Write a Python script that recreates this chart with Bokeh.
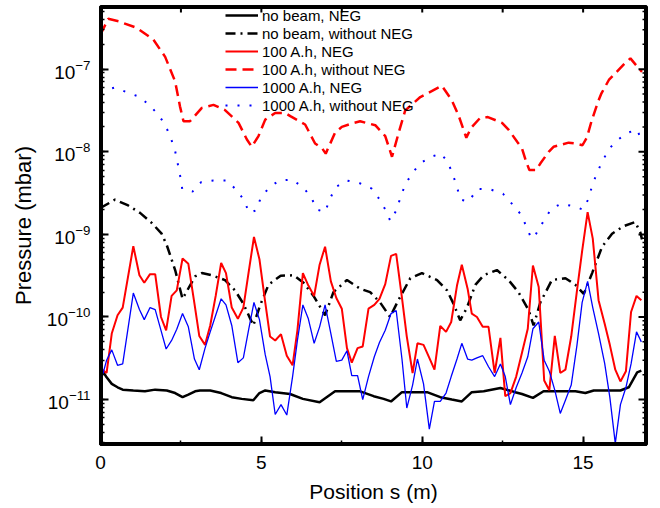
from bokeh.plotting import figure
from bokeh.models import Range1d, LogTicker, SingleIntervalTicker, Legend, LegendItem
from bokeh.embed import file_html
from bokeh.resources import INLINE

# ---------------- data ----------------
x_neg = [0.0, 0.19, 0.35, 0.53, 0.69, 1.02, 1.21, 1.36, 1.54, 1.70, 1.88, 2.04, 2.21, 2.37, 2.55, 2.73,
         2.92, 3.07, 3.25, 3.41, 3.58, 3.75, 3.90, 4.08, 4.27, 4.44, 4.60, 4.77, 4.94, 5.12, 5.27, 5.43,
         5.61, 5.79, 5.97, 6.12, 6.29, 6.46, 6.64, 6.81, 6.98, 7.16, 7.33, 7.50, 7.66, 7.81, 7.99, 8.15,
         8.33, 8.51, 8.67, 8.85, 9.03, 9.19, 9.37, 9.52, 9.70, 9.85, 10.04, 10.22, 10.38, 10.56, 10.74,
         10.90, 11.08, 11.23, 11.41, 11.54, 11.70, 11.88, 12.06, 12.25, 12.43, 12.58, 12.74, 12.92, 13.10,
         13.28, 13.44, 13.62, 13.79, 13.95, 14.12, 14.29, 14.45, 14.63, 14.81, 14.97, 15.14, 15.30, 15.48,
         15.67, 15.83, 16.00, 16.16, 16.33, 16.49, 16.66, 16.81]

p_100_neg = [2.4e-11, 2.1e-11, 6.3e-11, 1.05e-10, 1.3e-10, 7.2e-10, 3.2e-10, 2.6e-10, 3.3e-10, 3.3e-10,
             1.0e-10, 6.9e-11, 1.8e-10, 2.1e-10, 5.1e-10, 4.4e-10, 1.45e-10, 5.9e-11, 4.6e-11, 7.9e-11,
             1.8e-10, 4.5e-10, 3.4e-10, 1.3e-10, 9.5e-11, 1.3e-10, 3.4e-10, 9.3e-10, 5.0e-10, 1.5e-10,
             5.8e-11, 5.2e-11, 6.2e-11, 3.4e-11, 2.6e-11, 6.9e-11, 3.4e-10, 2.4e-10, 1.8e-10, 4.3e-10,
             7.1e-10, 2.7e-10, 1.7e-10, 1.26e-10, 4.2e-11, 2.8e-11, 4.2e-11, 4.4e-11, 1.26e-10, 1.4e-10,
             1.66e-10, 2.5e-10, 5.5e-10, 5.8e-10, 1.7e-10, 5.8e-11, 2.1e-11, 4.8e-11, 4.6e-11, 3.2e-11,
             2.3e-11, 7.8e-11, 6.6e-11, 8.7e-11, 2.4e-10, 4.3e-10, 2.2e-10, 1.1e-10, 1.0e-10, 7.6e-11,
             7.6e-11, 2.1e-11, 5.6e-11, 1.1e-11, 1.2e-11, 1.9e-11, 3.7e-11, 7.2e-11, 4.2e-10, 2.3e-10,
             1.7e-11, 1.3e-11, 5.9e-11, 2.1e-11, 2.3e-11, 5.8e-11, 2.1e-10, 6.3e-10, 1.86e-9, 8.9e-10,
             1.6e-10, 8.3e-11, 4.6e-11, 2.3e-11, 1.66e-11, 2.2e-11, 1.15e-10, 1.8e-10, 1.6e-10]

p_1000_neg = [1.6e-11, 3.0e-11, 4.0e-11, 2.6e-11, 2.7e-11, 1.95e-10, 1.23e-10, 9.3e-11, 1.3e-10, 1.23e-10,
              6.9e-11, 4.1e-11, 5.2e-11, 7.1e-11, 1.1e-10, 7.6e-11, 3.1e-11, 2.3e-11, 4.2e-11, 6.6e-11,
              1.05e-10, 1.66e-10, 1.4e-10, 7.9e-11, 2.8e-11, 3.2e-11, 6.9e-11, 1.5e-10, 9.3e-11, 3.5e-11,
              1.9e-11, 6.6e-12, 8.7e-12, 6.5e-12, 1.9e-11, 5.2e-11, 1.4e-10, 9.5e-11, 4.8e-11, 7.6e-11,
              1.4e-10, 6.3e-11, 2.9e-11, 3.0e-11, 3.9e-11, 1.95e-11, 1.95e-11, 1.0e-11, 1.9e-11, 3.3e-11,
              4.9e-11, 6.9e-11, 1.1e-10, 1.2e-10, 3.1e-11, 7.9e-12, 1.5e-11, 3.1e-11, 1.55e-11, 4.4e-12,
              9.5e-12, 9.5e-12, 1.2e-11, 1.9e-11, 3.1e-11, 4.8e-11, 3.1e-11, 3.0e-11, 3.2e-11, 3.4e-11,
              2.5e-11, 1.9e-11, 2.7e-11, 1.9e-11, 8.7e-12, 1.4e-11, 2.1e-11, 3.3e-11, 7.2e-11, 8.7e-11,
              3.0e-11, 2.2e-11, 1.3e-11, 6.8e-12, 9.8e-12, 1.5e-11, 4.6e-11, 1.5e-10, 2.7e-10, 1.3e-10,
              6.3e-11, 2.75e-11, 1.07e-11, 2.95e-12, 8.7e-12, 1.4e-11, 2.7e-11, 6.6e-11, 5.0e-11]

x_nobeam = [0.0, 0.19, 0.35, 0.53, 0.69, 1.02, 1.38, 1.70, 2.06, 2.32, 2.55, 2.73, 2.94, 3.09, 3.41, 3.75,
            4.08, 4.39, 4.75, 4.94, 5.12, 5.43, 5.89, 6.29, 6.81, 7.29, 8.07, 8.49, 8.80, 9.03, 9.37, 10.15,
            10.56, 10.92, 11.23, 11.54, 11.91, 12.43, 12.89, 13.10, 13.44, 13.77, 14.76, 15.07, 15.33, 16.16,
            16.42, 16.68, 16.81]
p_nobeam_neg = [2.45e-11, 1.86e-11, 1.55e-11, 1.41e-11, 1.32e-11, 1.29e-11, 1.26e-11, 1.32e-11, 1.29e-11,
                1.20e-11, 1.07e-11, 1.15e-11, 1.26e-11, 1.29e-11, 1.29e-11, 1.20e-11, 1.07e-11, 1.02e-11,
                9.8e-12, 1.20e-11, 1.29e-11, 1.23e-11, 1.17e-11, 1.02e-11, 9.3e-12, 1.26e-11, 1.26e-11,
                1.10e-11, 1.02e-11, 9.5e-12, 1.23e-11, 1.23e-11, 1.07e-11, 1.0e-11, 9.5e-12, 1.23e-11,
                1.26e-11, 1.38e-11, 1.23e-11, 1.17e-11, 1.05e-11, 1.26e-11, 1.26e-11, 1.20e-11, 1.29e-11,
                1.29e-11, 1.41e-11, 2.14e-11, 2.24e-11]

x_nobeam_wo = [0.0, 0.45, 0.86, 1.23, 1.59, 1.90, 2.06, 2.32, 2.55, 2.94, 3.15, 3.46, 3.87, 4.18, 4.44, 4.75,
               4.96, 5.22, 5.60, 6.00, 6.31, 6.62, 6.98, 7.24, 7.66, 8.07, 8.38, 8.69, 9.00, 9.26, 9.63, 9.99,
               10.46, 10.77, 10.97, 11.18, 11.39, 11.65, 11.91, 12.32, 12.68, 12.99, 13.31, 13.46, 13.67,
               14.03, 14.45, 14.76, 15.02, 15.28, 15.59, 15.90, 16.26, 16.62, 16.78, 16.83]
p_nobeam_wo = [2.09e-9, 2.63e-9, 2.24e-9, 1.82e-9, 1.38e-9, 1.02e-9, 7.4e-10, 3.7e-10, 1.66e-10, 3.1e-10,
               3.4e-10, 3.2e-10, 2.8e-10, 2.1e-10, 1.45e-10, 7.9e-11, 1.38e-10, 2.45e-10, 3.16e-10, 3.2e-10,
               2.6e-10, 1.8e-10, 1.05e-10, 2.0e-10, 2.8e-10, 2.2e-10, 2.0e-10, 1.5e-10, 1.0e-10, 1.6e-10,
               2.95e-10, 3.4e-10, 2.8e-10, 2.1e-10, 1.45e-10, 9.1e-11, 1.3e-10, 2.45e-10, 3.2e-10, 3.7e-10,
               2.8e-10, 2.0e-10, 1.2e-10, 7.9e-11, 1.5e-10, 2.8e-10, 2.95e-10, 2.45e-10, 1.9e-10, 3.4e-10,
               7.1e-10, 1.02e-9, 1.26e-9, 1.41e-9, 1.05e-9, 8.7e-10]

x_100_wo = [0.0, 0.24, 0.56, 1.13, 1.64, 2.01, 2.32, 2.47, 2.58, 2.78, 3.15, 3.51, 3.87, 4.29, 4.55, 4.70,
            4.91, 5.12, 5.43, 5.74, 5.90, 6.36, 6.67, 6.89, 7.00, 7.29, 7.50, 7.81, 8.07, 8.54, 8.85, 9.06,
            9.26, 9.47, 9.94, 10.61, 10.92, 11.13, 11.37, 11.52, 11.80, 12.04, 12.48, 12.68, 12.95, 13.10,
            13.23, 13.33, 13.54, 13.67, 13.93, 14.08, 14.55, 14.76, 14.98, 15.12, 15.26, 15.47, 15.57, 15.80,
            16.00, 16.29, 16.47, 16.73, 16.83]
p_100_wo = [2.63e-7, 4.07e-7, 3.8e-7, 3.16e-7, 2.29e-7, 1.41e-7, 7.1e-8, 3.55e-8, 2.34e-8, 2.34e-8,
            3.4e-8, 3.7e-8, 3.2e-8, 2.24e-8, 1.41e-8, 1.15e-8, 1.55e-8, 2.45e-8, 2.95e-8, 2.95e-8,
            2.7e-8, 2.14e-8, 1.26e-8, 1.1e-8, 9.5e-9, 1.7e-8, 2.0e-8, 2.2e-8, 2.34e-8, 2.1e-8,
            1.55e-8, 8.7e-9, 1.66e-8, 3.16e-8, 4.6e-8, 6.3e-8, 4.2e-8, 2.75e-8, 1.48e-8, 1.95e-8,
            2.57e-8, 2.63e-8, 2.24e-8, 1.86e-8, 1.32e-8, 1.1e-8, 7.6e-9, 6.0e-9, 6.0e-9, 7.2e-9,
            1.0e-8, 1.15e-8, 1.29e-8, 1.26e-8, 1.2e-8, 1.5e-8, 2.34e-8, 4.1e-8, 5.1e-8, 7.4e-8,
            8.9e-8, 1.17e-7, 1.35e-7, 1.02e-7, 9.3e-8]

x_1000_wo = [0.0, 0.45, 0.85, 1.23, 1.54, 1.82, 2.03, 2.19, 2.32, 2.40, 2.48, 2.54, 2.86, 3.13, 3.51, 3.93,
             4.24, 4.46, 4.62, 4.83, 4.98, 5.24, 5.56, 5.97, 6.33, 6.57, 6.72, 6.98, 7.12, 7.30, 7.64, 8.04,
             8.42, 8.66, 8.85, 9.01, 9.21, 9.32, 9.47, 9.70, 9.97, 10.27, 10.59, 10.80, 10.96, 11.08, 11.20,
             11.44, 11.72, 12.12, 12.51, 12.79, 13.07, 13.23, 13.39, 13.54, 13.77, 14.01, 14.31, 14.71, 14.99,
             15.17, 15.28, 15.43, 15.59, 15.82, 16.09, 16.39, 16.68, 16.83]
p_1000_wo = [5.4e-8, 6.0e-8, 5.2e-8, 4.6e-8, 3.6e-8, 2.75e-8, 2.04e-8, 1.45e-8, 1.02e-8, 7.2e-9,
             5.0e-9, 3.55e-9, 3.3e-9, 4.3e-9, 4.5e-9, 4.5e-9, 3.4e-9, 2.6e-9, 1.82e-9, 1.95e-9,
             2.75e-9, 3.7e-9, 4.5e-9, 4.6e-9, 3.6e-9, 2.7e-9, 2.0e-9, 1.86e-9, 2.63e-9, 3.7e-9,
             4.5e-9, 4.2e-9, 3.6e-9, 2.7e-9, 2.0e-9, 1.45e-9, 2.0e-9, 2.8e-9, 4.0e-9, 5.6e-9,
             7.4e-9, 8.7e-9, 9.5e-9, 7.4e-9, 5.2e-9, 3.7e-9, 2.63e-9, 2.5e-9, 3.55e-9, 3.5e-9,
             3.1e-9, 2.34e-9, 1.74e-9, 1.26e-9, 8.9e-10, 1.02e-9, 1.45e-9, 2.04e-9, 2.34e-9, 2.2e-9,
             2.0e-9, 2.7e-9, 3.9e-9, 5.5e-9, 7.6e-9, 1.1e-8, 1.41e-8, 1.7e-8, 1.86e-8, 1.32e-8]

series_labels = ["no beam, NEG", "no beam, without NEG", "100 A.h, NEG", "100 A.h, without NEG",
                 "1000 A.h, NEG", "1000 A.h, without NEG"]
x_label = "Position s (m)"
y_label = "Pressure (mbar)"
top_ticks = [0, 2.5, 5, 7.5, 10, 12.5, 15]
right_decades = [1e-11, 1e-10, 1e-9, 1e-8, 1e-7]
right_mantissas = [2, 3, 4, 5, 6, 7, 8, 9]

# ---------------- figure ----------------
FONT = "Liberation Sans"
X_MAX = 16.97
Y_MIN, Y_MAX = 2.86e-12, 5.74e-7
p = figure(width=660, height=508, output_backend="svg", toolbar_location=None,
           y_axis_type="log", x_range=Range1d(0, X_MAX), y_range=Range1d(Y_MIN, Y_MAX),
           min_border_left=100, min_border_right=14, min_border_top=6, min_border_bottom=64)
p.background_fill_color = "white"
p.border_fill_color = "white"
p.outline_line_color = "black"
p.outline_line_width = 3
p.xgrid.visible = False
p.ygrid.visible = False

r_nb = p.line(x_nobeam, p_nobeam_neg, line_color="black", line_width=2.5)
r_nbw = p.line(x_nobeam_wo, p_nobeam_wo, line_color="black", line_width=2.5, line_dash="10 5 2 5")
r_100 = p.line(x_neg, p_100_neg, line_color="#ff0000", line_width=2)
r_100w = p.line(x_100_wo, p_100_wo, line_color="#ff0000", line_width=2.5, line_dash="11 6")
r_1000 = p.line(x_neg, p_1000_neg, line_color="#0000ff", line_width=1.3)
r_1000w = p.line(x_1000_wo, p_1000_wo, line_color="#0000ff", line_width=2, line_dash="2 10")

# frame border along the axis range limits (drawn as a glyph path)
p.line([0, X_MAX, X_MAX, 0, 0], [Y_MIN, Y_MIN, Y_MAX, Y_MAX, Y_MIN], line_color="black", line_width=5)

# mirrored ticks on top and right sides (lengths: 8 px major, 4-6 px minor)
px_dec = 82.6          # pixels per decade
px_x = 32.15           # pixels per x unit
top_len = 10 ** (6 / px_dec)
p.segment(x0=top_ticks, y0=[Y_MAX] * len(top_ticks), x1=top_ticks,
          y1=[Y_MAX / top_len] * len(top_ticks), line_color="black", line_width=2)
rmaj = right_decades
rmin = [d * m for d in [1e-12] + right_decades for m in right_mantissas if Y_MIN < d * m < Y_MAX]
p.segment(x0=[X_MAX] * len(rmaj), y0=rmaj, x1=[X_MAX - 8 / px_x] * len(rmaj), y1=rmaj,
          line_color="black", line_width=2)
p.segment(x0=[X_MAX] * len(rmin), y0=rmin, x1=[X_MAX - 4 / px_x] * len(rmin), y1=rmin,
          line_color="black", line_width=1.5)

def style_axis(ax):
    ax.axis_line_width = 3
    ax.axis_line_color = "black"
    ax.major_tick_in = 8
    ax.major_tick_out = 0
    ax.minor_tick_in = 4
    ax.minor_tick_out = 0
    ax.major_tick_line_width = 2
    ax.minor_tick_line_width = 1.5
    ax.major_tick_line_color = "black"
    ax.minor_tick_line_color = "black"
    ax.major_label_text_font = FONT
    ax.major_label_text_color = "black"

xa = p.xaxis[0]
xa.ticker = SingleIntervalTicker(interval=5, num_minor_ticks=2)
style_axis(xa)
xa.major_label_text_font_size = "19px"
xa.major_label_standoff = 11
xa.axis_label = x_label
xa.axis_label_text_font = FONT
xa.axis_label_text_color = "black"
xa.axis_label_text_font_size = "21px"
xa.axis_label_text_font_style = "normal"
xa.axis_label_standoff = 8

ya = p.yaxis[0]
ya.ticker = LogTicker(mantissas=[1], desired_num_ticks=6, num_minor_ticks=10)
style_axis(ya)
ya.major_label_text_font_size = "19px"
ya.major_label_standoff = 10
ya.axis_label = y_label
ya.axis_label_text_font = FONT
ya.axis_label_text_color = "black"
ya.axis_label_text_font_size = "22px"
ya.axis_label_text_font_style = "normal"
ya.axis_label_standoff = 8

legend = Legend(items=[LegendItem(label=l, renderers=[r]) for l, r in
                       zip(series_labels, [r_nb, r_nbw, r_100, r_100w, r_1000, r_1000w])],
                location="top_left")
legend.border_line_color = None
legend.background_fill_alpha = 0
legend.padding = 0
legend.margin = 0
legend.spacing = 0
legend.label_height = 18
legend.glyph_height = 18
legend.glyph_width = 33
legend.label_standoff = 4
legend.label_text_font = FONT
legend.label_text_font_size = "15px"
legend.label_text_color = "black"
p.add_layout(legend)
legend.location = (125, 330)

open("out.html", "w").write(file_html(p, INLINE))
